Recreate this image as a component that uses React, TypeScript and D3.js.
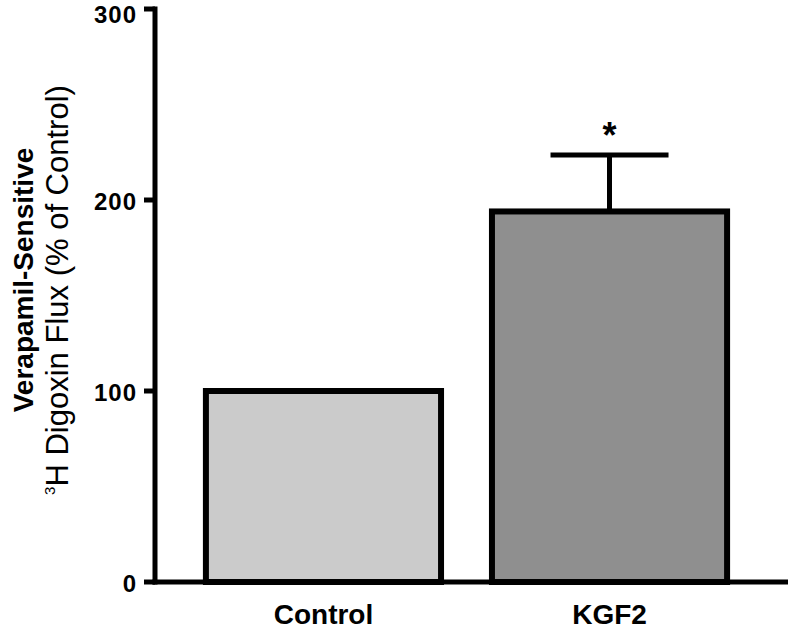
import React from "react";
import * as d3 from "d3";

const categories: string[] = ["Control", "KGF2"];
const values: number[] = [100, 194];
const errors: number[] = [0, 29.5];
const fills: string[] = ["#cbcbcb", "#8f8f8f"];
const significance: string[] = ["", "*"];
const yTicks: number[] = [0, 100, 200, 300];

const W = 789;
const H = 636;
const FONT = "'Liberation Sans', Arial, Helvetica, sans-serif";

export default function App() {
  const x = d3
    .scaleBand<string>()
    .domain(categories)
    .range([163, 770])
    .paddingInner(0.178)
    .paddingOuter(0.15);
  const y = d3.scaleLinear().domain([0, 300]).range([582, 9]);
  const axisX = 155;
  const bw = x.bandwidth();

  return (
    <svg
      width={W}
      height={H}
      style={{ position: "absolute", left: 0, top: 0, background: "#fff" }}
      fontFamily={FONT}
    >
      {/* bars */}
      {categories.map((c, i) => (
        <rect
          key={c}
          x={x(c)!}
          y={y(values[i])}
          width={bw}
          height={y(0) - y(values[i])}
          fill={fills[i]}
          stroke="#000"
          strokeWidth={6}
        />
      ))}
      {/* error bars */}
      {categories.map((c, i) =>
        errors[i] > 0 ? (
          <g key={"e" + c} stroke="#000" strokeWidth={5}>
            <line
              x1={x(c)! + bw / 2}
              x2={x(c)! + bw / 2}
              y1={y(values[i])}
              y2={y(values[i] + errors[i])}
            />
            <line
              x1={x(c)! + bw / 2 - 59}
              x2={x(c)! + bw / 2 + 59}
              y1={y(values[i] + errors[i])}
              y2={y(values[i] + errors[i])}
            />
          </g>
        ) : null
      )}
      {/* significance */}
      {categories.map((c, i) =>
        significance[i] ? (
          <text
            key={"s" + c}
            x={x(c)! + bw / 2}
            y={y(values[i] + errors[i]) - 7}
            textAnchor="middle"
            fontWeight="bold"
            fontSize={36}
          >
            {significance[i]}
          </text>
        ) : null
      )}
      {/* axes */}
      <line x1={axisX} x2={axisX} y1={y(0) + 2.5} y2={y(300) - 2.5} stroke="#000" strokeWidth={5} />
      <line x1={axisX - 2.5} x2={788} y1={y(0)} y2={y(0)} stroke="#000" strokeWidth={5} />
      {yTicks.map((t) => (
        <g key={t}>
          <line x1={axisX - 11} x2={axisX} y1={y(t)} y2={y(t)} stroke="#000" strokeWidth={5} />
          <text
            x={137}
            y={Math.max(y(t) + 10, 23)}
            textAnchor="end"
            fontWeight="bold"
            fontSize={24}
            letterSpacing={1}
          >
            {t}
          </text>
        </g>
      ))}
      {categories.map((c) => (
        <text
          key={"l" + c}
          x={x(c)! + bw / 2}
          y={624}
          textAnchor="middle"
          fontWeight="bold"
          fontSize={28}
        >
          {c}
        </text>
      ))}
      {/* y-axis label */}
      <text
        transform="translate(33,280) rotate(-90)"
        textAnchor="middle"
        fontWeight="bold"
        fontSize={28}
      >
        Verapamil-Sensitive
      </text>
      <text transform="translate(68,290) rotate(-90)" textAnchor="middle" fontSize={31}>
        <tspan fontSize={15} dy={-13}>3</tspan>
        <tspan dy={13}>H Digoxin Flux (% of Control)</tspan>
      </text>
    </svg>
  );
}
